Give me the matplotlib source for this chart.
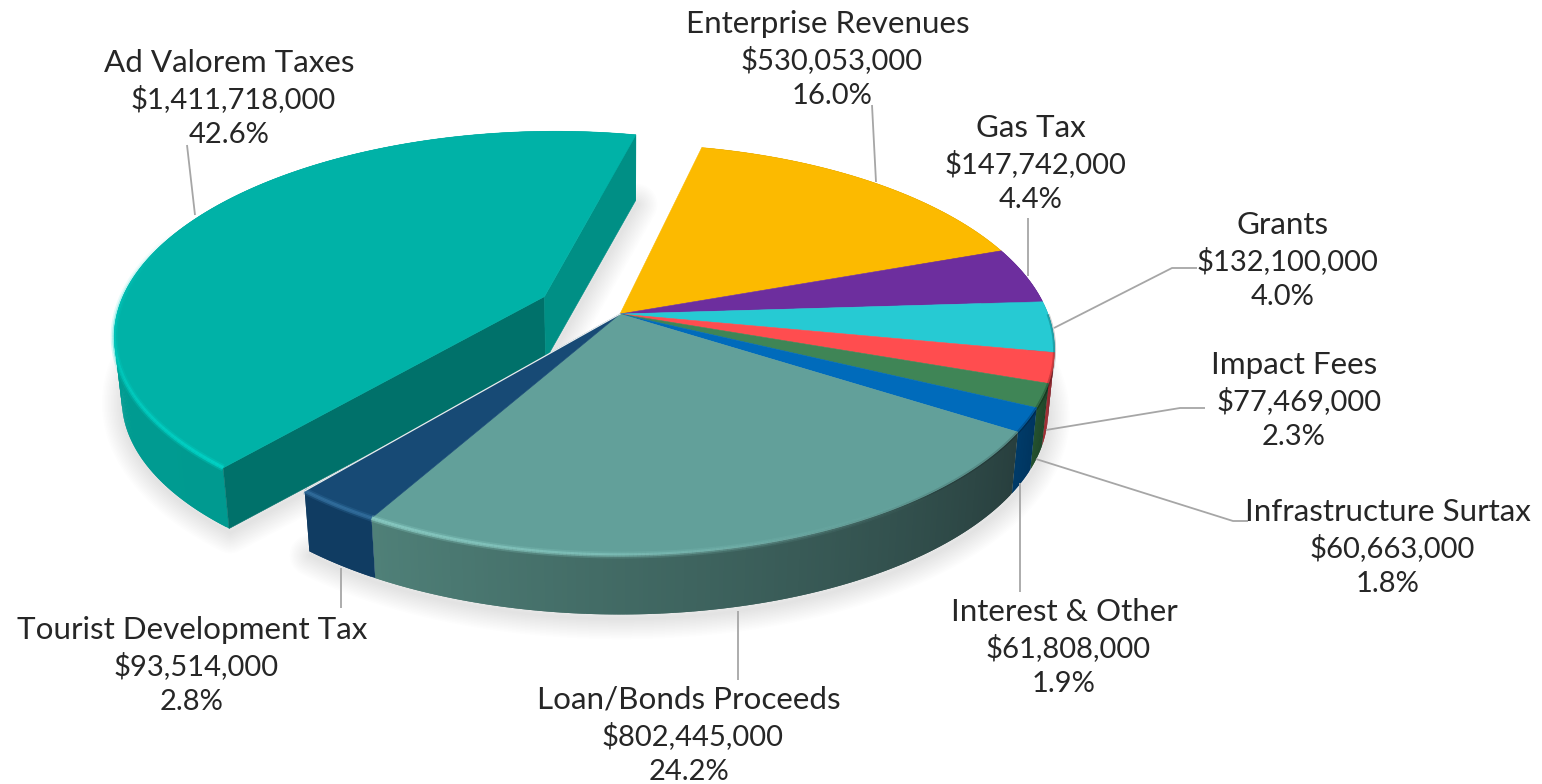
import numpy as np
import matplotlib
matplotlib.use("Agg")
import matplotlib.pyplot as plt
from matplotlib.collections import PolyCollection, LineCollection
from matplotlib.colors import to_rgb

# ---------- data ----------
categories = ["Enterprise Revenues", "Gas Tax", "Grants", "Impact Fees", "Infrastructure Surtax",
              "Interest & Other", "Loan/Bonds Proceeds", "Tourist Development Tax", "Ad Valorem Taxes"]
amounts = [530053000, 147742000, 132100000, 77469000, 60663000,
           61808000, 802445000, 93514000, 1411718000]
percents = ["16.0%", "4.4%", "4.0%", "2.3%", "1.8%", "1.9%", "24.2%", "2.8%", "42.6%"]

# ---------- styles ----------
top_colors = ["#FCBA00", "#6D2E9E", "#26CAD3", "#FF4D4F", "#3F8556", "#006BBB", "#62A09A", "#174A75", "#00B2A7"]
side_left = ["#B08200", "#4C2070", "#178A92", "#A02A30", "#24522F", "#003B68", "#4F8078", "#103C62", "#00A398"]
side_right = ["#B08200", "#4C2070", "#178A92", "#8C1F28", "#1F4429", "#003560", "#283F3E", "#103C62", "#009A90"]
rim_colors = ["#FCBA00", "#6D2E9E", "#26CAD3", "#FF6060", "#4F9566", "#1A7BC8", "#8FD2CA", "#3B7AAB", "#00D8CB"]
cut_start = "#00716A"
cut_end = "#008F85"
leader_color = "#A6A6A6"
text_color = "#262626"
FONT = "Lato"
FS_NAME = 22.6
FS_NUM = 21.0

# geometry of the projected pie (pixels)
CX, CY, R = 620.0, 314.0, 428.0
S, K = 0.466, 0.1727
DEPTH, SHRINK = 63.0, 0.985
START = 12.9
EXPLODE = 0.2
W, H = 1542, 784


def top_xy(x, y):
    d = 1 + K * y
    return CX + R * x / d, CY - R * S * y / d


def bottom_xy(x, y):
    sx, sy = top_xy(x, y)
    return CX + SHRINK * (sx - CX), CY + DEPTH + SHRINK * (sy - CY)


def circle(theta_deg):
    t = np.radians(theta_deg)
    return np.sin(t), np.cos(t)


fig = plt.figure(figsize=(W / 100, H / 100), dpi=100, facecolor="white")
ax = fig.add_axes([0, 0, 1, 1])
ax.set_xlim(0, W)
ax.set_ylim(H, 0)
ax.axis("off")

vals = np.array(amounts, dtype=float)
sweeps = vals / vals.sum() * 360
edges = START + np.concatenate([[0], np.cumsum(sweeps)])
n = len(vals)


def offsets(i):
    if categories[i] == "Ad Valorem Taxes":
        ox, oy = circle((edges[i] + edges[i + 1]) / 2)
        return ox * EXPLODE, oy * EXPLODE
    return 0.0, 0.0


def arc(i, num=None):
    num = num or max(int(sweeps[i] * 2), 6)
    th = np.linspace(edges[i], edges[i + 1], num)
    x, y = circle(th)
    ox, oy = offsets(i)
    return th, x + ox, y + oy, ox, oy


# soft shadow, behind everything
for i_group in ([n - 1], list(range(n - 1))):
    xs, ys = [], []
    for i in i_group:
        th, x, y, ox, oy = arc(i)
        bx, by = bottom_xy(x, y)
        xs += list(bx)
        ys += list(by)
    cx0, cy0 = bottom_xy(*offsets(i_group[0]))
    ax_x = np.array(xs + [cx0])
    ax_y = np.array(ys + [cy0])
    for lw in np.linspace(30, 2, 14):
        ax.fill(ax_x + 1, ax_y + 4, facecolor="none", edgecolor="#000000", alpha=0.009,
                lw=lw, joinstyle="round", zorder=1)


def draw_sides(i, z):
    th, x, y, ox, oy = arc(i)
    tx, ty = top_xy(x, y)
    bx, by = bottom_xy(x, y)
    polys, cols = [], []
    c0, c1 = np.array(to_rgb(side_left[i])), np.array(to_rgb(side_right[i]))
    m = len(th)
    for j in range(m - 1):
        e = min(j + 2, m - 1)
        polys.append([(tx[j], ty[j]), (tx[e], ty[e]), (bx[e], by[e]), (bx[j], by[j])])
        f = j / max(m - 2, 1)
        cols.append(c1 * (1 - f) + c0 * f)
    # overlap neighbours and paint over them in order, so no seams show
    ax.add_collection(PolyCollection(polys, facecolors=cols, edgecolors="none", linewidths=0, zorder=z))


def draw_top(i, z):
    th, x, y, ox, oy = arc(i)
    px, py = top_xy(np.concatenate([[ox], x]), np.concatenate([[oy], y]))
    ax.fill(px, py, facecolor=top_colors[i], edgecolor=top_colors[i], lw=0.4, zorder=z)


def draw_rim(i, z):
    th, x, y, ox, oy = arc(i, 200)
    tx, ty = top_xy(x, y)
    clock = np.mod(th, 360)
    inten = np.clip(1 - np.abs(clock - 215) / 75, 0, 1)
    rgb = to_rgb(rim_colors[i])
    segs = [[(tx[j], ty[j]), (tx[j + 1], ty[j + 1])] for j in range(len(th) - 1)]
    for lw, a in ((5.0, 0.3), (2.6, 0.75)):
        cols = [(rgb[0], rgb[1], rgb[2], a * inten[j] ** 0.9) for j in range(len(th) - 1)]
        ax.add_collection(LineCollection(segs, colors=cols, linewidths=lw, zorder=z, capstyle="butt"))
    dark = np.clip((180 - clock) / 70, 0, 1) * (clock > 90)
    cols = [(0, 0, 0, 0.2 * dark[j]) for j in range(len(th) - 1)]
    ax.add_collection(LineCollection(segs, colors=cols, linewidths=2.2, zorder=z, capstyle="butt"))


# exploded slice: arc side, cut faces, top
iv = n - 1
draw_sides(iv, 3)
ox, oy = offsets(iv)
for ang, col in ((edges[iv], cut_start), (edges[iv + 1], cut_end)):
    ex, ey = circle(ang)
    ex, ey = ex + ox, ey + oy
    p1, p2 = top_xy(ox, oy), top_xy(ex, ey)
    p3, p4 = bottom_xy(ex, ey), bottom_xy(ox, oy)
    ax.fill([p1[0], p2[0], p3[0], p4[0]], [p1[1], p2[1], p3[1], p4[1]],
            facecolor=col, edgecolor=col, lw=0.4, zorder=4)
draw_top(iv, 5)
draw_rim(iv, 6)

# main body of the pie
for i in range(n - 1):
    draw_sides(i, 7)
for i in range(n - 1):
    draw_top(i, 8)
for i in range(n - 1):
    draw_rim(i, 9)

# thin white edge along the tourist slice
ex, ey = top_xy(*circle(edges[n - 1]))
ax.plot([CX, ex], [CY, ey], color="#E8EEEE", lw=0.9, zorder=9)

# ---------- leaders ----------
leaders = {
    "Ad Valorem Taxes": [(187, 145), (195, 215)],
    "Enterprise Revenues": [(872, 105), (876, 182)],
    "Gas Tax": [(1028, 218), (1028, 276)],
    "Grants": [(1054, 328), (1172, 268), (1197, 268)],
    "Impact Fees": [(1046, 430), (1180, 408), (1205, 408)],
    "Infrastructure Surtax": [(1036, 459), (1233, 521), (1248, 521)],
    "Interest & Other": [(1020, 483), (1020, 592)],
    "Loan/Bonds Proceeds": [(738, 611), (738, 680)],
    "Tourist Development Tax": [(341, 568), (341, 608)],
}
for pts in leaders.values():
    a = np.array(pts)
    ax.plot(a[:, 0], a[:, 1], color=leader_color, lw=1.3, zorder=10, solid_capstyle="butt")

# ---------- labels: centre x of each of the three lines, and y of the first ----------
label_pos = {
    "Enterprise Revenues": ((828, 832, 832), 24),
    "Gas Tax": ((1031, 1035, 1031), 128),
    "Grants": ((1283, 1287, 1283), 225),
    "Impact Fees": ((1294, 1299, 1294), 365),
    "Infrastructure Surtax": ((1388, 1392, 1388), 512),
    "Interest & Other": ((1064, 1068, 1064), 612),
    "Loan/Bonds Proceeds": ((689, 693, 689), 700),
    "Tourist Development Tax": ((192, 196, 192), 630),
    "Ad Valorem Taxes": ((229, 233, 229), 63),
}
for i, name in enumerate(categories):
    xs3, y0 = label_pos[name]
    lines = [name, f"${amounts[i]:,}", percents[i]]
    for k, (lx, s) in enumerate(zip(xs3, lines)):
        ax.text(lx, y0 + k * 35.8, s, ha="center", va="center", fontsize=FS_NAME if k == 0 else FS_NUM,
                family=FONT, weight="normal", color=text_color, zorder=11)

fig.savefig("out.png", dpi=100, facecolor="white")
